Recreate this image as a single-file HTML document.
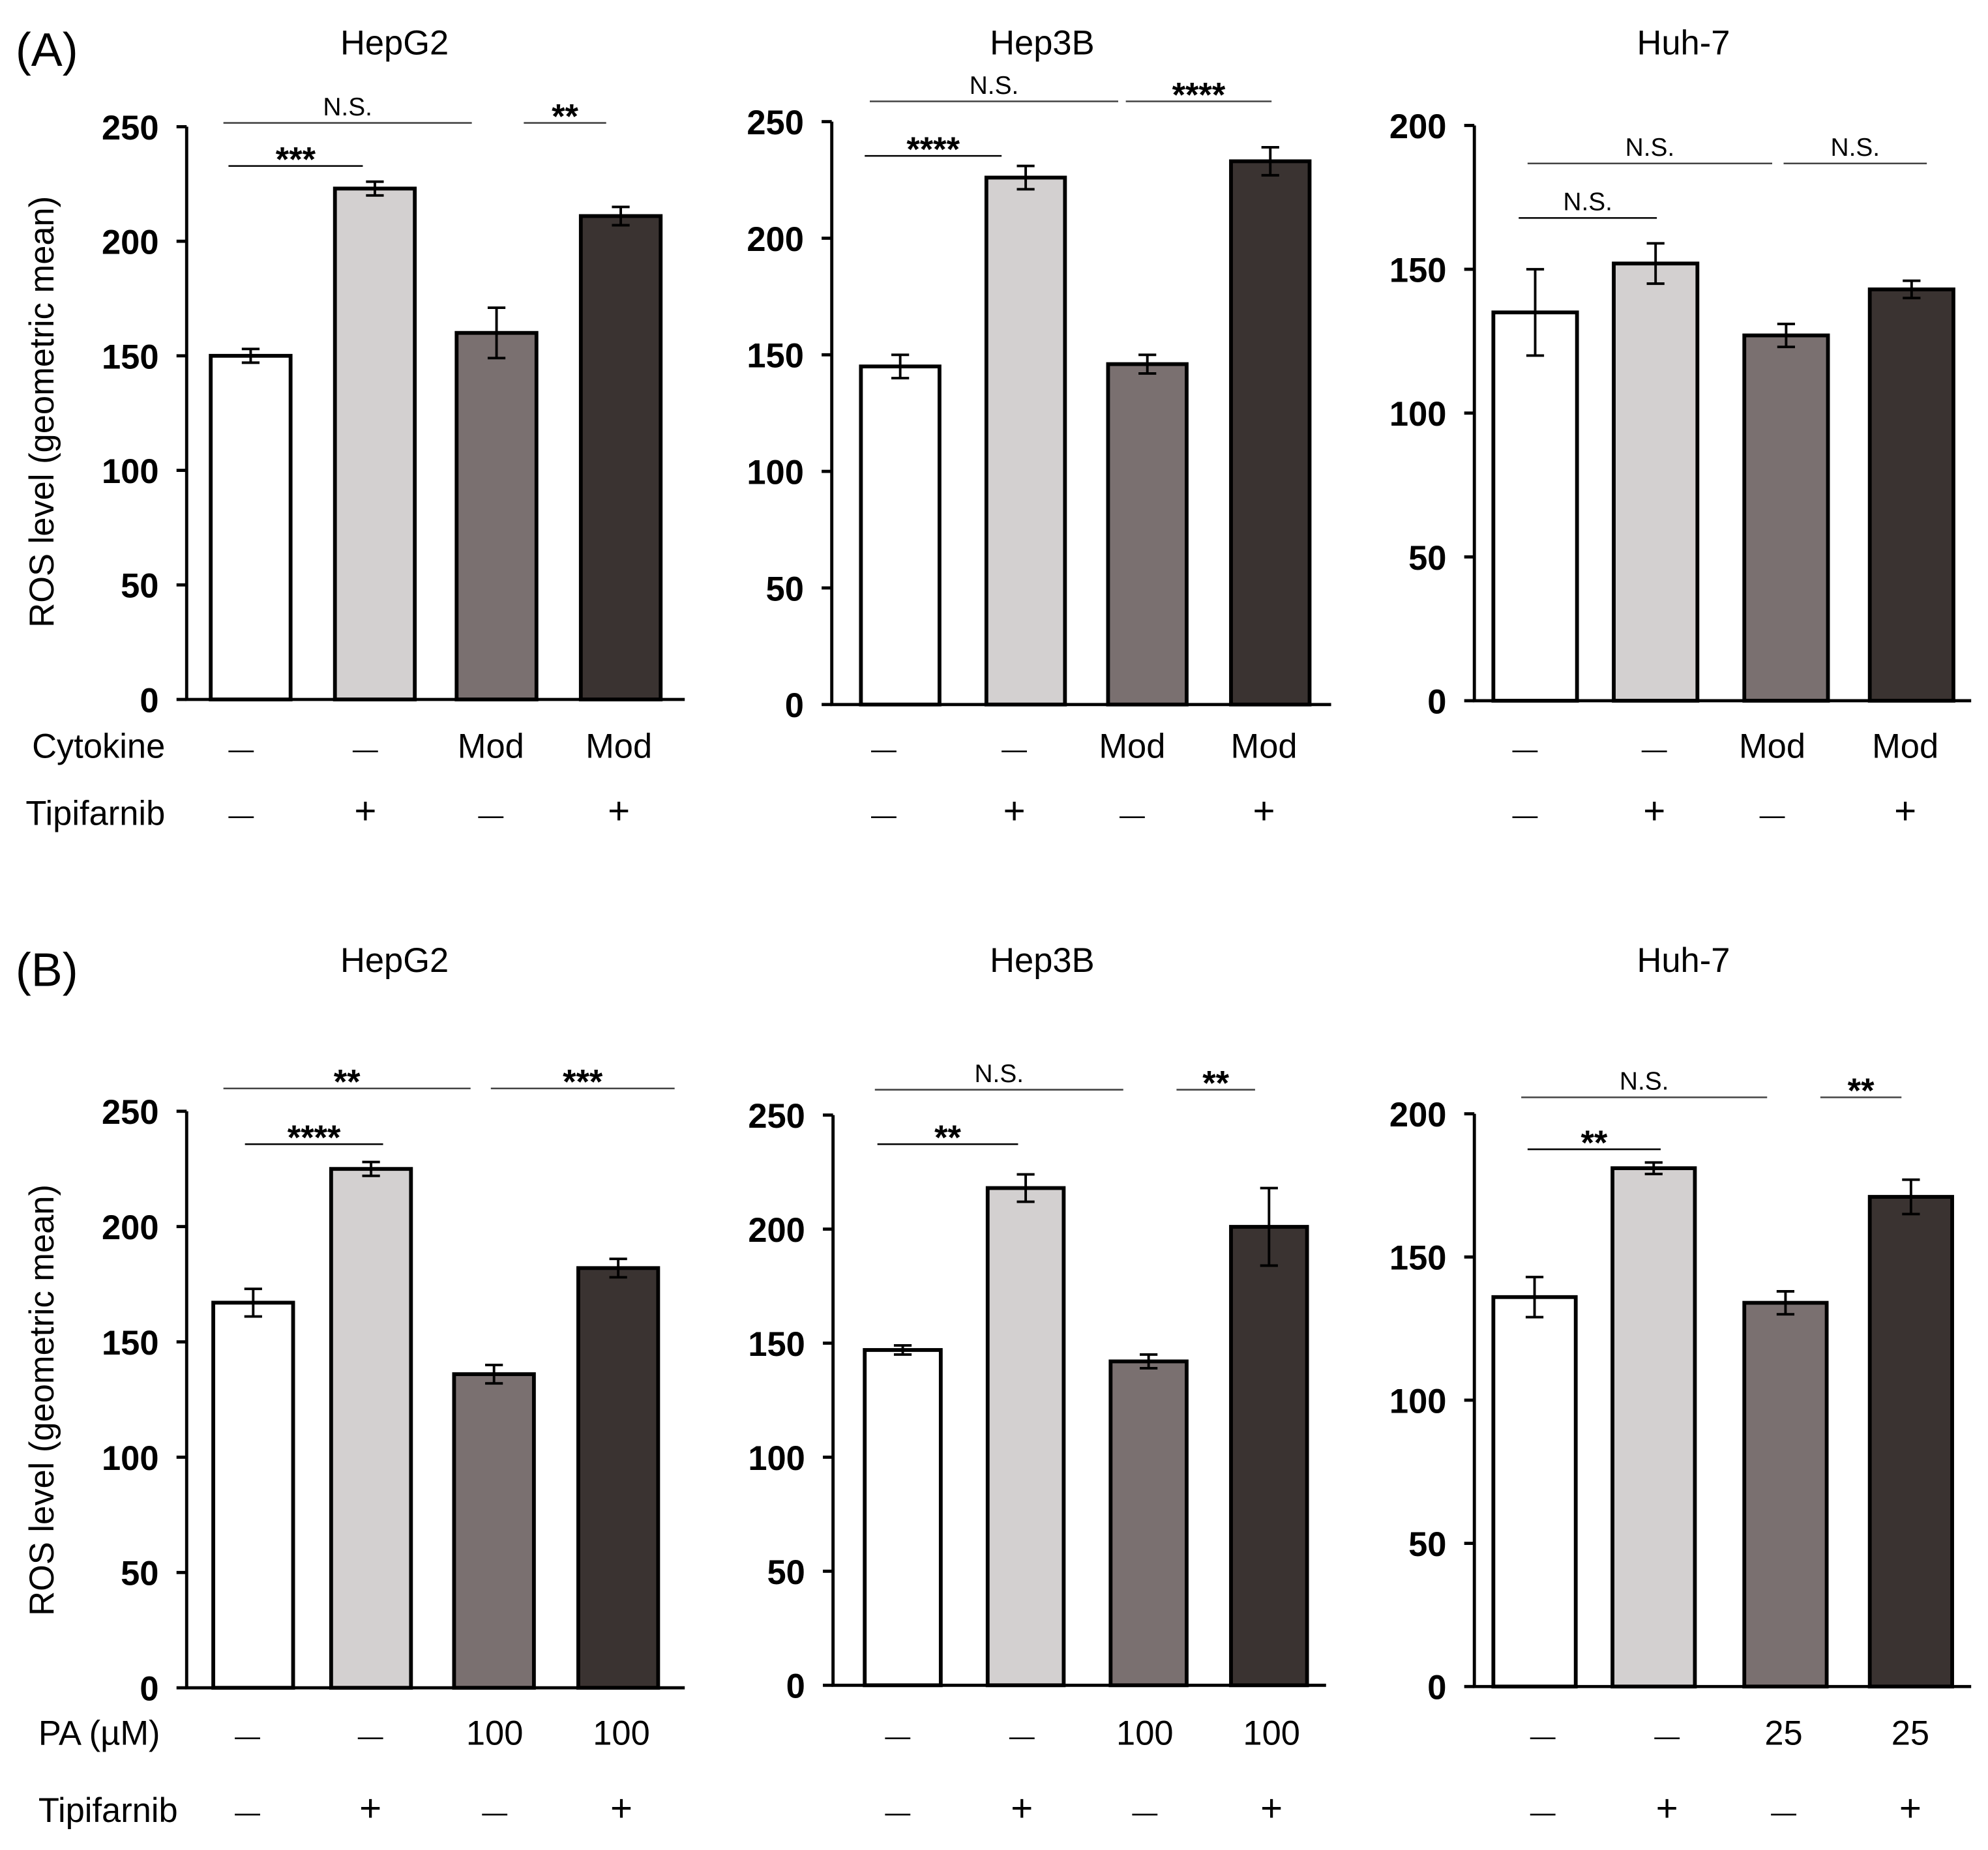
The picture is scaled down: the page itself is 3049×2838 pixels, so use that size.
<!DOCTYPE html>
<html><head><meta charset="utf-8"><style>
html,body{margin:0;padding:0;background:#fff;}
svg{display:block;font-family:"Liberation Sans",Arial,sans-serif;}
</style></head><body>
<svg id="fig" width="3049" height="2838" viewBox="0 0 1568 1460" xmlns="http://www.w3.org/2000/svg">
<rect width="1568" height="1460" fill="#fff"/>
<text x="12" y="52" font-size="37">(A)</text>
<text x="12" y="778" font-size="37">(B)</text>
<text transform="translate(42,325) rotate(-90)" text-anchor="middle" font-size="27">ROS level (geometric mean)</text>
<text transform="translate(42,1105) rotate(-90)" text-anchor="middle" font-size="27">ROS level (geometric mean)</text>
<text x="25" y="598" font-size="27">Cytokine</text>
<text x="20" y="651" font-size="27">Tipifarnib</text>
<text x="30" y="1377" font-size="27">PA (µM)</text>
<text x="30" y="1438" font-size="27">Tipifarnib</text>
</svg>
<script>
// ---- data ----
const titles = ["HepG2","Hep3B","Huh-7","HepG2","Hep3B","Huh-7"];
const yMaxes = [250,250,200,250,250,200];
const valsA1 = [150,223,160,211]; const errA1 = [3,3,11,4];
const valsA2 = [145,226,146,233]; const errA2 = [5,5,4,6];
const valsA3 = [135,152,127,143]; const errA3 = [15,7,4,3];
const valsB1 = [167,225,136,182]; const errB1 = [6,3,4,4];
const valsB2 = [147,218,142,201]; const errB2 = [2,6,3,17];
const valsB3 = [136,181,134,171]; const errB3 = [7,2,4,6];
const row1A = ["—","—","Mod","Mod"];
const row1B = ["—","—","100","100"];
const row1B3 = ["—","—","25","25"];
const row2 = ["—","+","—","+"];
const sigA1 = [["N.S.",0,2],["**",2,3],["***",0,1]];
const sigA2 = [["N.S.",0,2],["****",2,3],["****",0,1]];
const sigA3 = [["N.S.",0,2],["N.S.",2,3],["N.S.",0,1]];
const sigB1 = [["**",0,2],["***",2,3],["****",0,1]];
const sigB2 = [["N.S.",0,2],["**",2,3],["**",0,1]];
const sigB3 = [["N.S.",0,2],["**",2,3],["**",0,1]];

// ---- layout ----
const fills = ["#ffffff","#d3d0d0","#7a7070","#3a3331"];
const layouts = [
 {tx:311,ax:147,y0:552,yTop:100,xEnd:540,bx:[166,264,360,458],bw:63,ty:33,r1:588,r2:640,lx:[190,288,387,488],sy:[97,97,131],sx:[[176,372],[413,478],[180,286]]},
 {tx:822,ax:656,y0:556,yTop:96,xEnd:1050,bx:[679,778,874,971],bw:62,ty:33,r1:588,r2:640,lx:[697,800,893,997],sy:[80,80,123],sx:[[686,882],[888,1003],[682,790]]},
 {tx:1328,ax:1163,y0:553,yTop:99,xEnd:1555,bx:[1178,1273,1376,1475],bw:66,ty:33,r1:588,r2:640,lx:[1203,1305,1398,1503],sy:[129,129,172],sx:[[1205,1398],[1407,1520],[1198,1307]]},
 {tx:311,ax:147,y0:1332,yTop:877,xEnd:540,bx:[168,261,358,456],bw:63,ty:757,r1:1367,r2:1427,lx:[195,292,390,490],sy:[859,859,903],sx:[[176,371],[387,532],[193,302]]},
 {tx:822,ax:657,y0:1330,yTop:880,xEnd:1046,bx:[682,779,876,971],bw:60,ty:757,r1:1367,r2:1427,lx:[708,806,903,1003],sy:[860,860,903],sx:[[690,886],[928,990],[692,803]]},
 {tx:1328,ax:1163,y0:1331,yTop:879,xEnd:1555,bx:[1178,1272,1376,1475],bw:65,ty:757,r1:1367,r2:1427,lx:[1217,1315,1407,1507],sy:[866,866,907],sx:[[1200,1394],[1436,1500],[1205,1310]]}
];
const allVals=[valsA1,valsA2,valsA3,valsB1,valsB2,valsB3];
const allErr=[errA1,errA2,errA3,errB1,errB2,errB3];
const allSig=[sigA1,sigA2,sigA3,sigB1,sigB2,sigB3];
const allRow1=[row1A,row1A,row1A,row1B,row1B,row1B3];
const NS="http://www.w3.org/2000/svg";
const svg=document.getElementById("fig");
function mk(tag,attrs,parent,text){const e=document.createElementNS(NS,tag);for(const k in attrs)e.setAttribute(k,attrs[k]);if(text!==undefined)e.textContent=text;parent.appendChild(e);return e;}

layouts.forEach((L,p)=>{
 const g=mk("g",{},svg);
 
 
 const yMax=yMaxes[p];
 const y=v=>L.y0-(v/yMax)*(L.y0-L.yTop);
 const t=mk("text",{x:L.tx,y:L.ty+10,"font-size":27,"text-anchor":"middle"},g,titles[p]);
 
 
 allVals[p].forEach((v,i)=>{
  const r=mk("rect",{x:L.bx[i],y:y(v),width:L.bw,height:L.y0-y(v),fill:fills[i],stroke:"#000","stroke-width":3},g);
  
  
  const cx=L.bx[i]+L.bw/2,e=allErr[p][i];
  const eb=mk("path",{d:`M${cx-7},${y(v+e)}H${cx+7}M${cx},${y(v+e)}V${y(v-e)}M${cx-7},${y(v-e)}H${cx+7}`,stroke:"#000","stroke-width":2,fill:"none"},g);
  
  
 });
 const ax=mk("path",{d:`M${L.ax},${L.yTop}V${L.y0}H${L.xEnd}`,stroke:"#000","stroke-width":2.5,fill:"none"},g);
 
 
 for(let v=0;v<=yMax;v+=50){
  mk("line",{x1:L.ax-8,x2:L.ax,y1:y(v),y2:y(v),stroke:"#000","stroke-width":2.5},g);
  const tl=mk("text",{x:L.ax-22,y:y(v)+10,"font-size":27,"font-weight":"bold","text-anchor":"end"},g,String(v));
  
  
 }
 allRow1[p].forEach((s,i)=>{
  const tx=mk("text",{x:L.lx[i],y:L.r1+10,"font-size":s=="—"?20:27,"text-anchor":"middle"},g,s);
  
  
 });
 row2.forEach((s,i)=>{
  const tx=mk("text",{x:L.lx[i],y:L.r2+10,"font-size":s=="—"?20:30,"text-anchor":"middle"},g,s);
  
  
 });
 allSig[p].forEach((s,k)=>{
  const [x1,x2]=L.sx[k],sy=L.sy[k];
  const ln=mk("line",{x1:x1,x2:x2,y1:sy,y2:sy,stroke:k==2?"#000":"#444","stroke-width":1.3},g);
  
  
  const isNS=s[0]=="N.S.";
  const st=mk("text",{x:(x1+x2)/2,y:isNS?sy-6:sy+4,"font-size":isNS?20:27,"text-anchor":"middle","font-weight":isNS?"normal":"bold"},g,s[0]);
  
  
 });
});
</script>
</body></html>
